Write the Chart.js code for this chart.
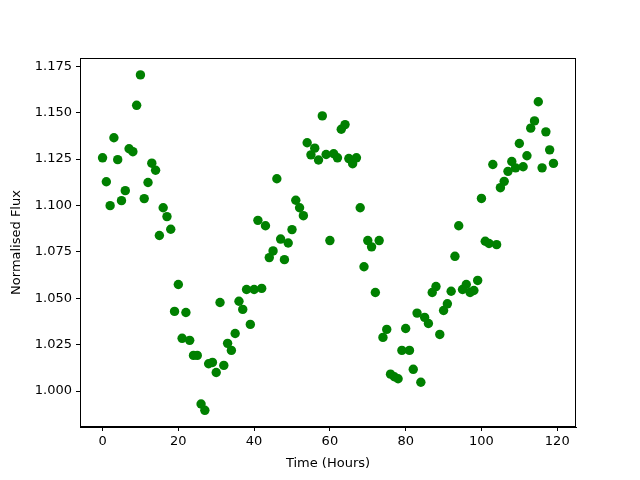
<!DOCTYPE html>
<html>
<head>
<meta charset="utf-8">
<script src="https://cdn.jsdelivr.net/npm/chart.js@4/dist/chart.umd.min.js"></script>
<style>
  html, body { margin: 0; padding: 0; background: #fff; }
  #wrap { width: 640px; height: 480px; }
</style>
</head>
<body>
<div id="wrap"><canvas id="chart" width="640" height="480"></canvas></div>
<script>
const hours = [
    0, 1, 2, 3, 4, 5, 6, 7, 8, 9, 10, 11, 12, 13, 14, 15, 16, 17, 18, 19,
    20, 21, 22, 23, 24, 25, 26, 27, 28, 29, 30, 31, 32, 33, 34, 35, 36, 37, 38, 39,
    40, 41, 42, 43, 44, 45, 46, 47, 48, 49, 50, 51, 52, 53, 54, 55, 56, 57, 58, 59,
    60, 61, 62, 63, 64, 65, 66, 67, 68, 69, 70, 71, 72, 73, 74, 75, 76, 77, 78, 79,
    80, 81, 82, 83, 84, 85, 86, 87, 88, 89, 90, 91, 92, 93, 94, 95, 96, 97, 98, 99,
    100, 101, 102, 103, 104, 105, 106, 107, 108, 109, 110, 111, 112, 113, 114, 115, 116, 117, 118, 119
];
const flux = [
    1.1257, 1.1128, 1.0999, 1.1365, 1.1247, 1.1026, 1.1080, 1.1306, 1.1290, 1.1540,
    1.1704, 1.1037, 1.1124, 1.1228, 1.1190, 1.0838, 1.0988, 1.0940, 1.0872, 1.0429,
    1.0574, 1.0284, 1.0423, 1.0273, 1.0192, 1.0192, 0.9930, 0.9896, 1.0147, 1.0154,
    1.0100, 1.0477, 1.0138, 1.0257, 1.0219, 1.0310, 1.0484, 1.0440, 1.0547, 1.0359,
    1.0547, 1.0920, 1.0553, 1.0891, 1.0719, 1.0755, 1.1144, 1.0819, 1.0708, 1.0798,
    1.0870, 1.1028, 1.0988, 1.0945, 1.1338, 1.1273, 1.1309, 1.1245, 1.1483, 1.1275,
    1.0811, 1.1279, 1.1257, 1.1411, 1.1436, 1.1253, 1.1225, 1.1257, 1.0988, 1.0670,
    1.0811, 1.0777, 1.0531, 1.0811, 1.0289, 1.0332, 1.0091, 1.0077, 1.0066, 1.0219,
    1.0337, 1.0219, 1.0117, 1.0420, 1.0047, 1.0397, 1.0364, 1.0531, 1.0563, 1.0305,
    1.0434, 1.0470, 1.0538, 1.0726, 1.0891, 1.0547, 1.0574, 1.0531, 1.0542, 1.0596,
    1.1038, 1.0807, 1.0795, 1.1221, 1.0789, 1.1096, 1.1130, 1.1184, 1.1237, 1.1203,
    1.1334, 1.1209, 1.1268, 1.1417, 1.1456, 1.1559, 1.1203, 1.1397, 1.1300, 1.1227
];
const xTicks = [0, 20, 40, 60, 80, 100, 120];
const yTicks = [1.000, 1.025, 1.050, 1.075, 1.100, 1.125, 1.150, 1.175];

const font = { family: 'DejaVu Sans', size: 13 };

// box round the plot area, like matplotlib's spines
const frame = {
    id: 'frame',
    afterDraw(chart) {
        const { ctx, chartArea: a } = chart;
        ctx.save();
        ctx.strokeStyle = '#000';
        ctx.lineWidth = 1;
        ctx.strokeRect(a.left + 0.5, a.top + 0.5, a.right - a.left - 1, a.bottom - a.top - 1);
        ctx.restore();
    }
};

const ctx = document.getElementById('chart').getContext('2d');
new Chart(ctx, {
    type: 'scatter',
    data: {
        datasets: [{
            label: 'flux',
            data: hours.map((h, i) => ({ x: h, y: flux[i] })),
            backgroundColor: '#008000',
            borderColor: '#008000',
            pointRadius: 4.7,
            pointHoverRadius: 4.7,
            borderWidth: 0
        }]
    },
    options: {
        responsive: false,
        animation: false,
        layout: { padding: { left: 0, top: 58, right: 64, bottom: 0 } },
        scales: {
            x: {
                type: 'linear',
                min: -5.95,
                max: 124.95,
                afterBuildTicks: s => { s.ticks = xTicks.map(v => ({ value: v })); },
                afterFit: s => { s.height = 53; },
                grid: { drawOnChartArea: false, drawTicks: true, tickLength: 4, color: '#000' },
                border: { display: true, color: '#000' },
                ticks: { color: '#000', font, padding: 3, maxRotation: 0 },
                title: { display: true, text: 'Time (Hours)', color: '#000', font, padding: { top: 2, bottom: 9 } }
            },
            y: {
                type: 'linear',
                min: 0.9806,
                max: 1.1795,
                afterBuildTicks: s => { s.ticks = yTicks.map(v => ({ value: v })); },
                afterFit: s => { s.width = 80; },
                grid: { drawOnChartArea: false, drawTicks: true, tickLength: 4, color: '#000' },
                border: { display: true, color: '#000' },
                ticks: { color: '#000', font, padding: 4, callback: v => v.toFixed(3) },
                title: { display: true, text: 'Normalised Flux', color: '#000', font, padding: { top: 9, bottom: 0 } }
            }
        },
        plugins: {
            legend: { display: false },
            tooltip: { enabled: false }
        }
    },
    plugins: [frame]
});
</script>
</body>
</html>
